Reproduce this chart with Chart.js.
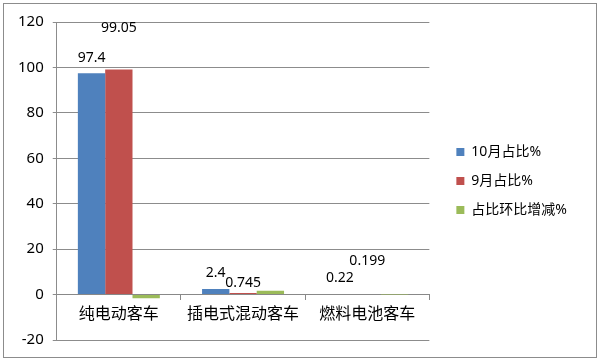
<!DOCTYPE html>
<html>
<head>
<meta charset="utf-8">
<script src="https://cdn.jsdelivr.net/npm/chart.js@4.4.1/dist/chart.umd.min.js"></script>
<style>
    body { margin: 0; background: #fff; }
    #wrap { position: relative; width: 600px; height: 362px; }
    #frame { position: absolute; left: 3px; top: 3px; width: 592px; height: 353px; border: 1px solid #8c8c8c; pointer-events: none; }
    canvas { position: absolute; left: 0; top: 0; }
</style>
</head>
<body>
<div id="wrap">
    <canvas id="chart" width="600" height="362"></canvas>
    <div id="frame"></div>
</div>
<script>
// Kategorien und Werte aus der Vorlage
let categories = ['纯电动客车', '插电式混动客车', '燃料电池客车'];
let seriesNames = ['10月占比%', '9月占比%', '占比环比增减%'];
let octShare = [97.4, 2.4, 0.22];
let sepShare = [99.05, 0.745, 0.199];
let changeShare = [-1.65, 1.655, 0.021];
let yTicks = [-20, 0, 20, 40, 60, 80, 100, 120];

// Abstand Beschriftung -> Balken in Pixeln (in der Vorlage teils verschoben), nur Serie 1 und 2
let labelGap = [[11, 12, 12], [38, 6, 29]];

let fontStack = '"Noto Sans", "Noto Sans CJK SC", sans-serif';

let valueLabels = {
    id: 'valueLabels',
    afterDatasetsDraw(chart) {
        let ctx = chart.ctx;
        ctx.save();
        ctx.font = '14px ' + fontStack;
        ctx.fillStyle = '#000';
        ctx.textAlign = 'center';
        ctx.textBaseline = 'alphabetic';
        for (let d = 0; d < 2; d++) {
            let meta = chart.getDatasetMeta(d);
            meta.data.forEach(function (bar, i) {
                let v = chart.data.datasets[d].data[i];
                ctx.fillText(String(v), bar.x, bar.y - labelGap[d][i]);
            });
        }
        ctx.restore();
    }
};

// Legende etwas weiter nach rechts schieben (grösserer Abstand zur Zeichenfläche)
let legendShift = {
    id: 'legendShift',
    afterLayout(chart) {
        if (chart.legend) {
            chart.legend.left += 12;
            chart.legend.right += 12;
        }
    }
};

function createDataset(label, data, color) {
    return {
        label: label,
        data: data,
        backgroundColor: color,
        borderWidth: 0
    };
}

new Chart(document.getElementById('chart').getContext('2d'), {
    type: 'bar',
    data: {
        labels: categories,
        datasets: [
            createDataset(seriesNames[0], octShare, '#4f81bd'),
            createDataset(seriesNames[1], sepShare, '#c0504d'),
            createDataset(seriesNames[2], changeShare, '#9bbb59')
        ]
    },
    options: {
        responsive: false,
        animation: false,
        maintainAspectRatio: false,
        datasets: { bar: { barPercentage: 1, categoryPercentage: 0.66 } },
        layout: { padding: { left: 9, right: 35, top: 22, bottom: 22 } },
        plugins: {
            legend: {
                position: 'right',
                labels: {
                    font: { size: 14, family: fontStack },
                    color: '#000',
                    boxWidth: 8,
                    boxHeight: 8,
                    padding: 15
                }
            },
            tooltip: { enabled: false }
        },
        scales: {
            x: {
                position: { y: 0 },
                grid: { drawOnChartArea: false, drawTicks: true, tickLength: 5, color: '#888', offset: true },
                border: { color: '#888' },
                ticks: { font: { size: 16, family: fontStack }, color: '#000', padding: 5 }
            },
            y: {
                min: yTicks[0],
                max: yTicks[yTicks.length - 1],
                afterBuildTicks: function (scale) {
                    scale.ticks = yTicks.map(function (v) { return { value: v }; });
                },
                grid: { color: '#8c8c8c', tickLength: 4 },
                border: { color: '#8c8c8c' },
                ticks: { font: { size: 15, family: fontStack }, color: '#000', padding: 9 }
            }
        }
    },
    plugins: [valueLabels, legendShift]
});
</script>
</body>
</html>
